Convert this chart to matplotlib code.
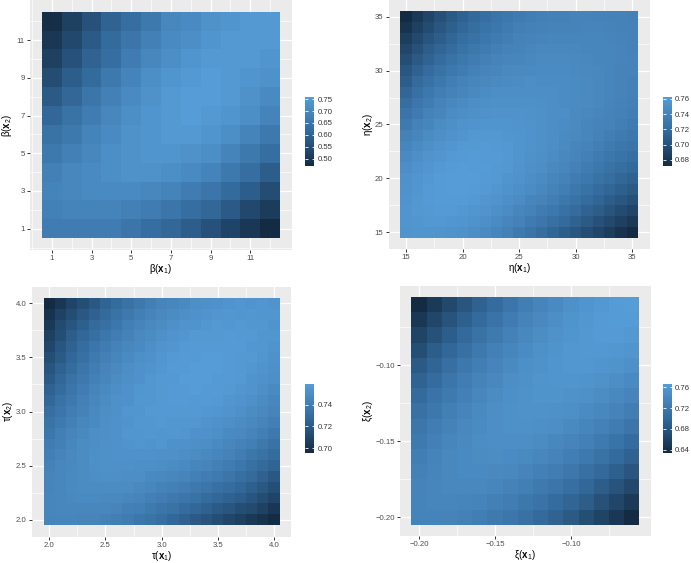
import numpy as np
import matplotlib
matplotlib.use("Agg")
import matplotlib.pyplot as plt
from matplotlib.colors import LinearSegmentedColormap

plt.rcParams['font.family'] = ['Liberation Sans', 'DejaVu Sans']
plt.rcParams['mathtext.fontset'] = 'custom'
plt.rcParams['mathtext.rm'] = 'Liberation Sans'
plt.rcParams['mathtext.bf'] = 'Liberation Sans:bold'
plt.rcParams['mathtext.it'] = 'Liberation Sans:italic'

W, H = 691, 563

# =========================
# Data (rows go from top of the panel to the bottom)
# =========================

beta_x1 = [1, 2, 3, 4, 5, 6, 7, 8, 9, 10, 11, 12]
beta_x2 = [12, 11, 10, 9, 8, 7, 6, 5, 4, 3, 2, 1]
beta_z = [
    [0.48, 0.52, 0.56, 0.60, 0.63, 0.66, 0.70, 0.71, 0.73, 0.74, 0.75, 0.75],
    [0.50, 0.54, 0.58, 0.62, 0.65, 0.68, 0.71, 0.72, 0.74, 0.75, 0.75, 0.75],
    [0.52, 0.56, 0.60, 0.63, 0.67, 0.70, 0.72, 0.74, 0.75, 0.75, 0.75, 0.74],
    [0.55, 0.59, 0.62, 0.66, 0.69, 0.72, 0.74, 0.75, 0.76, 0.75, 0.74, 0.73],
    [0.58, 0.61, 0.65, 0.68, 0.71, 0.73, 0.75, 0.76, 0.76, 0.75, 0.73, 0.71],
    [0.61, 0.64, 0.67, 0.70, 0.72, 0.74, 0.75, 0.76, 0.75, 0.74, 0.72, 0.69],
    [0.64, 0.66, 0.69, 0.71, 0.73, 0.74, 0.75, 0.75, 0.74, 0.72, 0.69, 0.66],
    [0.66, 0.68, 0.70, 0.72, 0.73, 0.74, 0.74, 0.73, 0.72, 0.69, 0.66, 0.63],
    [0.68, 0.70, 0.71, 0.72, 0.73, 0.73, 0.72, 0.71, 0.69, 0.66, 0.63, 0.59],
    [0.69, 0.70, 0.71, 0.71, 0.71, 0.70, 0.69, 0.67, 0.65, 0.62, 0.59, 0.55],
    [0.68, 0.69, 0.69, 0.69, 0.68, 0.67, 0.65, 0.63, 0.61, 0.58, 0.54, 0.51],
    [0.67, 0.67, 0.67, 0.67, 0.65, 0.63, 0.61, 0.59, 0.56, 0.53, 0.50, 0.47],
]

eta_x1 = [15, 16, 17, 18, 19, 20, 21, 22, 23, 24, 25, 26, 27, 28, 29, 30, 31, 32, 33, 34, 35]
eta_x2 = [35, 34, 33, 32, 31, 30, 29, 28, 27, 26, 25, 24, 23, 22, 21, 20, 19, 18, 17, 16, 15]
eta_z = [
    [0.672, 0.682, 0.691, 0.699, 0.706, 0.712, 0.717, 0.722, 0.727, 0.730, 0.733, 0.735, 0.737, 0.738, 0.738, 0.740, 0.740, 0.739, 0.739, 0.739, 0.738],
    [0.678, 0.688, 0.696, 0.704, 0.710, 0.716, 0.721, 0.726, 0.729, 0.733, 0.736, 0.738, 0.739, 0.740, 0.740, 0.740, 0.741, 0.741, 0.740, 0.739, 0.739],
    [0.685, 0.694, 0.702, 0.709, 0.715, 0.721, 0.725, 0.729, 0.733, 0.735, 0.739, 0.740, 0.741, 0.742, 0.742, 0.742, 0.742, 0.742, 0.741, 0.740, 0.739],
    [0.692, 0.700, 0.708, 0.714, 0.720, 0.725, 0.730, 0.733, 0.736, 0.739, 0.740, 0.743, 0.744, 0.744, 0.744, 0.744, 0.743, 0.742, 0.742, 0.741, 0.739],
    [0.698, 0.706, 0.713, 0.720, 0.725, 0.730, 0.734, 0.737, 0.740, 0.742, 0.743, 0.744, 0.746, 0.746, 0.746, 0.745, 0.744, 0.743, 0.742, 0.741, 0.740],
    [0.704, 0.712, 0.719, 0.725, 0.730, 0.734, 0.738, 0.741, 0.743, 0.745, 0.746, 0.746, 0.747, 0.747, 0.747, 0.746, 0.745, 0.744, 0.742, 0.740, 0.740],
    [0.709, 0.718, 0.724, 0.730, 0.735, 0.739, 0.742, 0.744, 0.746, 0.747, 0.748, 0.749, 0.748, 0.748, 0.748, 0.747, 0.746, 0.744, 0.742, 0.740, 0.738],
    [0.715, 0.723, 0.730, 0.735, 0.739, 0.743, 0.745, 0.748, 0.749, 0.750, 0.750, 0.750, 0.750, 0.749, 0.748, 0.747, 0.746, 0.744, 0.742, 0.740, 0.738],
    [0.721, 0.728, 0.734, 0.740, 0.744, 0.747, 0.749, 0.751, 0.752, 0.752, 0.752, 0.752, 0.751, 0.750, 0.748, 0.747, 0.746, 0.744, 0.741, 0.739, 0.737],
    [0.727, 0.733, 0.739, 0.743, 0.748, 0.750, 0.752, 0.753, 0.754, 0.754, 0.754, 0.753, 0.752, 0.750, 0.749, 0.746, 0.744, 0.743, 0.740, 0.738, 0.735],
    [0.732, 0.739, 0.743, 0.748, 0.751, 0.754, 0.755, 0.756, 0.756, 0.756, 0.755, 0.754, 0.752, 0.750, 0.748, 0.746, 0.743, 0.740, 0.739, 0.736, 0.733],
    [0.738, 0.743, 0.748, 0.751, 0.754, 0.756, 0.758, 0.758, 0.758, 0.757, 0.756, 0.754, 0.752, 0.750, 0.747, 0.745, 0.742, 0.739, 0.735, 0.733, 0.730],
    [0.743, 0.747, 0.751, 0.755, 0.757, 0.759, 0.759, 0.760, 0.759, 0.758, 0.756, 0.754, 0.752, 0.749, 0.746, 0.743, 0.740, 0.736, 0.733, 0.729, 0.727],
    [0.746, 0.751, 0.755, 0.757, 0.759, 0.760, 0.761, 0.760, 0.760, 0.758, 0.756, 0.753, 0.751, 0.748, 0.744, 0.741, 0.737, 0.733, 0.729, 0.726, 0.722],
    [0.750, 0.754, 0.757, 0.759, 0.761, 0.762, 0.761, 0.761, 0.759, 0.758, 0.755, 0.752, 0.749, 0.745, 0.742, 0.738, 0.734, 0.730, 0.725, 0.721, 0.717],
    [0.753, 0.756, 0.758, 0.761, 0.762, 0.762, 0.762, 0.760, 0.759, 0.756, 0.754, 0.750, 0.747, 0.743, 0.739, 0.734, 0.730, 0.725, 0.721, 0.716, 0.712],
    [0.754, 0.757, 0.760, 0.761, 0.762, 0.762, 0.761, 0.759, 0.757, 0.754, 0.751, 0.748, 0.744, 0.739, 0.735, 0.730, 0.725, 0.720, 0.715, 0.710, 0.706],
    [0.755, 0.758, 0.760, 0.761, 0.761, 0.761, 0.759, 0.757, 0.755, 0.751, 0.748, 0.743, 0.740, 0.735, 0.730, 0.725, 0.720, 0.714, 0.709, 0.704, 0.699],
    [0.756, 0.758, 0.759, 0.760, 0.760, 0.758, 0.757, 0.755, 0.751, 0.748, 0.743, 0.739, 0.734, 0.730, 0.724, 0.719, 0.713, 0.708, 0.702, 0.696, 0.691],
    [0.756, 0.757, 0.758, 0.758, 0.757, 0.756, 0.754, 0.751, 0.747, 0.743, 0.739, 0.733, 0.728, 0.723, 0.718, 0.712, 0.706, 0.700, 0.694, 0.688, 0.682],
    [0.755, 0.756, 0.756, 0.755, 0.754, 0.753, 0.750, 0.746, 0.743, 0.738, 0.732, 0.727, 0.721, 0.715, 0.709, 0.704, 0.698, 0.692, 0.685, 0.678, 0.672],
]

tau_x1 = [2.0, 2.1, 2.2, 2.3, 2.4, 2.5, 2.6, 2.7, 2.8, 2.9, 3.0, 3.1, 3.2, 3.3, 3.4, 3.5, 3.6, 3.7, 3.8, 3.9, 4.0]
tau_x2 = [4.0, 3.9, 3.8, 3.7, 3.6, 3.5, 3.4, 3.3, 3.2, 3.1, 3.0, 2.9, 2.8, 2.7, 2.6, 2.5, 2.4, 2.3, 2.2, 2.1, 2.0]
tau_z = [
    [0.696, 0.702, 0.709, 0.714, 0.719, 0.725, 0.729, 0.733, 0.737, 0.741, 0.744, 0.746, 0.748, 0.751, 0.752, 0.753, 0.754, 0.755, 0.754, 0.755, 0.754],
    [0.700, 0.708, 0.713, 0.719, 0.724, 0.728, 0.733, 0.737, 0.741, 0.744, 0.747, 0.749, 0.751, 0.753, 0.754, 0.755, 0.756, 0.755, 0.756, 0.755, 0.755],
    [0.703, 0.712, 0.718, 0.723, 0.728, 0.732, 0.736, 0.741, 0.744, 0.747, 0.749, 0.752, 0.754, 0.754, 0.756, 0.757, 0.756, 0.757, 0.756, 0.756, 0.754],
    [0.707, 0.714, 0.722, 0.727, 0.731, 0.736, 0.740, 0.743, 0.747, 0.749, 0.752, 0.754, 0.755, 0.757, 0.757, 0.757, 0.758, 0.757, 0.757, 0.755, 0.755],
    [0.710, 0.718, 0.724, 0.730, 0.735, 0.739, 0.743, 0.746, 0.748, 0.751, 0.754, 0.755, 0.757, 0.758, 0.758, 0.758, 0.758, 0.758, 0.756, 0.756, 0.754],
    [0.714, 0.720, 0.727, 0.732, 0.738, 0.742, 0.745, 0.748, 0.751, 0.753, 0.755, 0.757, 0.758, 0.758, 0.759, 0.759, 0.758, 0.757, 0.757, 0.755, 0.753],
    [0.717, 0.724, 0.729, 0.735, 0.740, 0.744, 0.747, 0.750, 0.753, 0.754, 0.756, 0.758, 0.758, 0.759, 0.759, 0.759, 0.758, 0.757, 0.756, 0.754, 0.752],
    [0.720, 0.727, 0.733, 0.737, 0.742, 0.745, 0.749, 0.751, 0.753, 0.756, 0.757, 0.757, 0.759, 0.759, 0.759, 0.758, 0.758, 0.757, 0.754, 0.753, 0.751],
    [0.724, 0.729, 0.735, 0.740, 0.744, 0.748, 0.750, 0.753, 0.755, 0.756, 0.757, 0.758, 0.758, 0.759, 0.758, 0.758, 0.757, 0.755, 0.754, 0.751, 0.748],
    [0.727, 0.733, 0.737, 0.742, 0.746, 0.749, 0.752, 0.753, 0.756, 0.756, 0.757, 0.758, 0.758, 0.757, 0.758, 0.757, 0.755, 0.754, 0.752, 0.749, 0.746],
    [0.731, 0.735, 0.740, 0.743, 0.747, 0.750, 0.752, 0.755, 0.755, 0.757, 0.757, 0.757, 0.757, 0.757, 0.756, 0.755, 0.754, 0.752, 0.749, 0.747, 0.744],
    [0.734, 0.738, 0.742, 0.746, 0.748, 0.751, 0.753, 0.754, 0.756, 0.756, 0.757, 0.756, 0.756, 0.756, 0.754, 0.753, 0.751, 0.749, 0.747, 0.744, 0.741],
    [0.736, 0.741, 0.744, 0.747, 0.750, 0.751, 0.753, 0.755, 0.755, 0.756, 0.755, 0.756, 0.755, 0.753, 0.753, 0.751, 0.748, 0.747, 0.744, 0.741, 0.737],
    [0.739, 0.742, 0.746, 0.749, 0.750, 0.752, 0.753, 0.754, 0.755, 0.754, 0.755, 0.753, 0.753, 0.751, 0.750, 0.748, 0.746, 0.743, 0.741, 0.737, 0.733],
    [0.741, 0.744, 0.747, 0.749, 0.751, 0.752, 0.753, 0.753, 0.753, 0.753, 0.752, 0.752, 0.750, 0.749, 0.747, 0.745, 0.743, 0.740, 0.736, 0.733, 0.729],
    [0.743, 0.746, 0.747, 0.749, 0.751, 0.752, 0.752, 0.752, 0.751, 0.751, 0.750, 0.749, 0.748, 0.745, 0.744, 0.742, 0.739, 0.736, 0.732, 0.728, 0.725],
    [0.744, 0.746, 0.748, 0.749, 0.750, 0.751, 0.751, 0.750, 0.750, 0.748, 0.747, 0.746, 0.744, 0.742, 0.740, 0.738, 0.735, 0.731, 0.728, 0.724, 0.719],
    [0.744, 0.746, 0.748, 0.749, 0.749, 0.749, 0.749, 0.749, 0.747, 0.746, 0.743, 0.742, 0.740, 0.737, 0.735, 0.732, 0.730, 0.727, 0.723, 0.719, 0.714],
    [0.745, 0.746, 0.747, 0.748, 0.748, 0.747, 0.747, 0.746, 0.744, 0.742, 0.740, 0.737, 0.735, 0.733, 0.729, 0.727, 0.724, 0.722, 0.718, 0.713, 0.709],
    [0.745, 0.746, 0.746, 0.746, 0.746, 0.746, 0.744, 0.742, 0.741, 0.738, 0.735, 0.733, 0.729, 0.727, 0.724, 0.720, 0.718, 0.714, 0.712, 0.708, 0.702],
    [0.744, 0.745, 0.745, 0.744, 0.744, 0.743, 0.741, 0.739, 0.736, 0.734, 0.731, 0.727, 0.724, 0.720, 0.717, 0.714, 0.710, 0.707, 0.703, 0.700, 0.696],
]

xi_x1 = [-0.20, -0.19, -0.18, -0.17, -0.16, -0.15, -0.14, -0.13, -0.12, -0.11, -0.10, -0.09, -0.08, -0.07, -0.06]
xi_x2 = [-0.06, -0.07, -0.08, -0.09, -0.10, -0.11, -0.12, -0.13, -0.14, -0.15, -0.16, -0.17, -0.18, -0.19, -0.20]
xi_z = [
    [0.634, 0.650, 0.665, 0.679, 0.693, 0.705, 0.716, 0.727, 0.736, 0.744, 0.751, 0.758, 0.761, 0.765, 0.767],
    [0.648, 0.663, 0.677, 0.691, 0.703, 0.714, 0.725, 0.734, 0.742, 0.749, 0.756, 0.760, 0.764, 0.765, 0.765],
    [0.661, 0.675, 0.689, 0.701, 0.712, 0.723, 0.732, 0.740, 0.747, 0.754, 0.758, 0.762, 0.764, 0.764, 0.761],
    [0.672, 0.687, 0.699, 0.710, 0.721, 0.730, 0.738, 0.745, 0.752, 0.756, 0.760, 0.762, 0.762, 0.760, 0.758],
    [0.684, 0.696, 0.708, 0.719, 0.728, 0.736, 0.743, 0.750, 0.754, 0.758, 0.760, 0.760, 0.758, 0.756, 0.751],
    [0.694, 0.705, 0.716, 0.726, 0.734, 0.741, 0.748, 0.752, 0.756, 0.758, 0.758, 0.756, 0.754, 0.749, 0.744],
    [0.702, 0.714, 0.723, 0.731, 0.739, 0.746, 0.750, 0.754, 0.756, 0.756, 0.754, 0.752, 0.747, 0.742, 0.736],
    [0.711, 0.720, 0.729, 0.736, 0.743, 0.748, 0.752, 0.754, 0.754, 0.752, 0.750, 0.745, 0.740, 0.734, 0.727],
    [0.718, 0.726, 0.733, 0.741, 0.745, 0.749, 0.752, 0.752, 0.750, 0.748, 0.743, 0.738, 0.732, 0.725, 0.716],
    [0.723, 0.731, 0.738, 0.742, 0.747, 0.749, 0.749, 0.748, 0.746, 0.741, 0.736, 0.730, 0.723, 0.714, 0.705],
    [0.728, 0.735, 0.740, 0.744, 0.746, 0.747, 0.745, 0.743, 0.739, 0.734, 0.728, 0.721, 0.712, 0.703, 0.693],
    [0.732, 0.737, 0.741, 0.744, 0.744, 0.742, 0.741, 0.736, 0.731, 0.726, 0.719, 0.710, 0.701, 0.691, 0.679],
    [0.734, 0.738, 0.741, 0.741, 0.740, 0.738, 0.733, 0.729, 0.723, 0.716, 0.708, 0.699, 0.689, 0.677, 0.665],
    [0.735, 0.738, 0.738, 0.737, 0.735, 0.731, 0.726, 0.720, 0.714, 0.705, 0.696, 0.687, 0.675, 0.663, 0.650],
    [0.735, 0.735, 0.734, 0.732, 0.728, 0.723, 0.718, 0.711, 0.702, 0.694, 0.684, 0.672, 0.661, 0.648, 0.634],
]

beta_ticks = [1, 3, 5, 7, 9, 11]
eta_ticks = [15, 20, 25, 30, 35]
tau_ticks = [2.0, 2.5, 3.0, 3.5, 4.0]
xi_ticks = [-0.20, -0.15, -0.10]

beta_cticks = [0.50, 0.55, 0.60, 0.65, 0.70, 0.75]
eta_cticks = [0.68, 0.70, 0.72, 0.74, 0.76]
tau_cticks = [0.70, 0.72, 0.74]
xi_cticks = [0.64, 0.68, 0.72, 0.76]

GG = LinearSegmentedColormap.from_list("gg", ["#132B43", "#33699B", "#569CD6"])


def px_axes(fig, left, top, right, bottom):
    return fig.add_axes([left / W, 1 - bottom / H, (right - left) / W, (bottom - top) / H])


def expand(vals):
    step = abs(vals[1] - vals[0])
    lo, hi = min(vals) - step / 2, max(vals) + step / 2
    pad = 0.05 * (hi - lo)
    return lo - pad, hi + pad


def minor_of(ticks, lim):
    m = ticks[1] - ticks[0]
    cand = [ticks[0] - m / 2] + [t + m / 2 for t in ticks]
    return [c for c in cand if lim[0] <= c <= lim[1]]


def panel(fig, box, cbox, x, y, z, ticks, fmt, xlab, ylab, cticks, ylabpad, xlabpad):
    ax = px_axes(fig, *box)
    z = np.array(z)
    mesh = ax.pcolormesh(np.array(x), np.array(y), z, cmap=GG, shading="nearest",
                         vmin=z.min(), vmax=z.max(), edgecolors="none",
                         linewidth=0, antialiased=False, zorder=2)
    xl, yl = expand(x), expand(y)
    ax.set_xlim(xl)
    ax.set_ylim(yl)
    ax.set_facecolor("#EBEBEB")
    for s in ax.spines.values():
        s.set_visible(False)
    ax.set_xticks(ticks)
    ax.set_yticks(ticks)
    ax.set_xticklabels([fmt.format(t).replace("-", "\u2212") for t in ticks])
    ax.set_yticklabels([fmt.format(t).replace("-", "\u2212") for t in ticks])
    ax.set_xticks(minor_of(ticks, xl), minor=True)
    ax.set_yticks(minor_of(ticks, yl), minor=True)
    ax.grid(True, which="major", color="white", linewidth=0.9, zorder=1)
    ax.grid(True, which="minor", color="white", linewidth=0.45, zorder=1)
    ax.set_axisbelow(True)
    ax.tick_params(which="major", length=2.2, width=0.7, color="#333333",
                   labelsize=5.6, labelcolor="#4D4D4D", pad=1.5)
    ax.tick_params(which="minor", length=0)
    ax.set_xlabel(xlab, fontsize=7, labelpad=xlabpad)
    ax.set_ylabel(ylab, fontsize=7, labelpad=ylabpad)

    cax = px_axes(fig, *cbox)
    cb = fig.colorbar(mesh, cax=cax)
    cb.outline.set_visible(False)
    cb.set_ticks(cticks)
    cb.set_ticklabels(["{:.2f}".format(t) for t in cticks])
    cax.minorticks_off()
    cax.tick_params(which="major", direction="in", length=1.8, width=0.6,
                    color="white", labelsize=5.6, labelcolor="#333333",
                    pad=2.5, left=True, right=True)
    return ax


fig = plt.figure(figsize=(W / 100, H / 100), dpi=100)

panel(fig, (30, 0.4, 292, 249.5), (305, 96.7, 314, 166),
      beta_x1, beta_x2, beta_z, beta_ticks, "{:d}",
      r"$\mathrm{\beta(}\mathbf{x}_{1}\mathrm{)}$",
      r"$\mathrm{\beta(}\mathbf{x}_{2}\mathrm{)}$", beta_cticks, 2, 0)

panel(fig, (388.5, 0, 649.8, 249), (663.3, 97.3, 671.7, 166),
      eta_x1, eta_x2, eta_z, eta_ticks, "{:d}",
      r"$\mathrm{\eta(}\mathbf{x}_{1}\mathrm{)}$",
      r"$\mathrm{\eta(}\mathbf{x}_{2}\mathrm{)}$", eta_cticks, 0, 0)

panel(fig, (31.9, 286.5, 291.4, 536.5), (305, 383.7, 314, 452.7),
      tau_x1, tau_x2, tau_z, tau_ticks, "{:.1f}",
      r"$\mathrm{\tau(}\mathbf{x}_{1}\mathrm{)}$",
      r"$\mathrm{\tau(}\mathbf{x}_{2}\mathrm{)}$", tau_cticks, 0.5, 0)

panel(fig, (400, 285.5, 650.8, 536.3), (663.3, 383.7, 671.7, 452.7),
      xi_x1, xi_x2, xi_z, xi_ticks, "{:.2f}",
      r"$\mathrm{\xi(}\mathbf{x}_{1}\mathrm{)}$",
      r"$\mathrm{\xi(}\mathbf{x}_{2}\mathrm{)}$", xi_cticks, 0, 0)

fig.savefig("out.png", dpi=100)
